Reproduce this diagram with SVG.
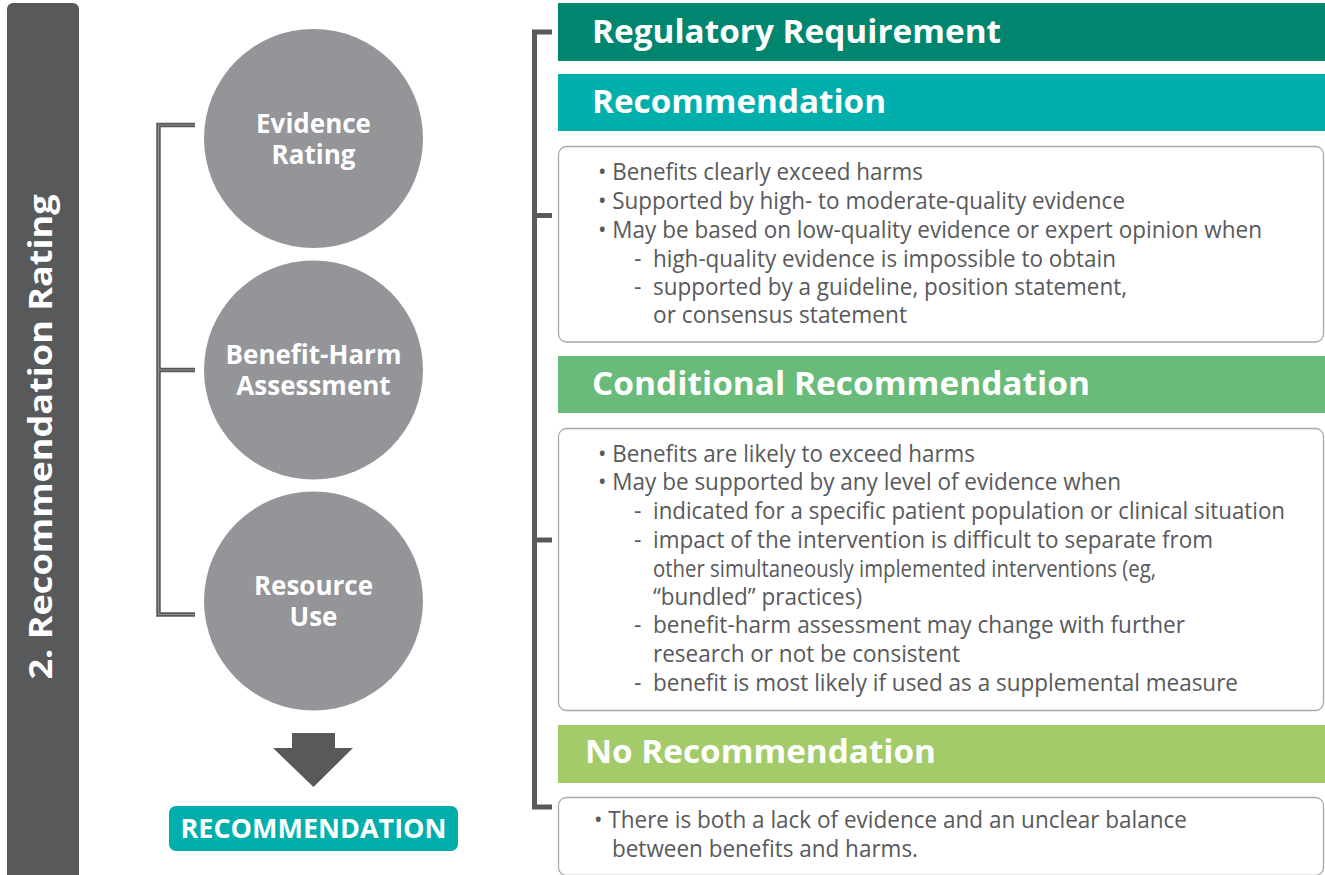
<svg xmlns="http://www.w3.org/2000/svg" width="1325" height="875" viewBox="0 0 1325 875">
<style>
.hd{font-family:"Open Sans","Liberation Sans",sans-serif;font-weight:bold;font-size:32px;fill:#ffffff}
.ct{font-family:"Open Sans","Liberation Sans",sans-serif;font-weight:bold;font-size:26px;fill:#ffffff;text-anchor:middle}
.bd{font-family:"Open Sans","Liberation Sans",sans-serif;font-size:23px;fill:#58595b}
.box{fill:#ffffff;stroke:#a7a9ac;stroke-width:1.3}
.circ{fill:#939598}
</style>
<rect width="1325" height="875" fill="#ffffff"/>

<g id="side-bar">
<rect x="7" y="3" width="72" height="880" rx="6" fill="#58595b"/>
<text class="hd" x="52" y="437" font-size="34" text-anchor="middle" transform="rotate(-90 52 437)" textLength="485" lengthAdjust="spacingAndGlyphs">2. Recommendation Rating</text>
</g>

<g id="connectors">
<g fill="none" stroke="#58595b" stroke-width="4.5">
<path d="M195 125 H158.5 V614.5 H195 M158.5 370 H195"/>
</g>
<g fill="none" stroke="#8f9194" stroke-width="1.2">
<path d="M195 125 H158.5 V614.5 H195 M158.5 370 H195"/>
</g>
<path d="M552 32 H534.5 V807 H552 M534.5 215.5 H552 M534.5 540 H552" fill="none" stroke="#58595b" stroke-width="5"/>
</g>

<g id="evidence-rating">
<circle class="circ" cx="313.5" cy="138.5" r="109.5"/>
<text class="ct" x="313.5" y="133">Evidence</text>
<text class="ct" x="313.5" y="164">Rating</text>
</g>

<g id="benefit-harm">
<circle class="circ" cx="313.5" cy="370" r="109.5"/>
<text class="ct" x="313.5" y="364">Benefit-Harm</text>
<text class="ct" x="313.5" y="395">Assessment</text>
</g>

<g id="resource-use">
<circle class="circ" cx="313.5" cy="601" r="109.5"/>
<text class="ct" x="313.5" y="595">Resource</text>
<text class="ct" x="313.5" y="626">Use</text>
</g>

<g id="down-arrow">
<path d="M292 733 H335 V748 L353 748 L313.5 787 L273 748 L292 748 Z" fill="#58595b"/>
</g>

<g id="recommendation-button">
<rect x="169" y="806" width="289" height="45" rx="7" fill="#00aeab"/>
<text class="ct" x="313.5" y="838" textLength="266" lengthAdjust="spacingAndGlyphs">RECOMMENDATION</text>
</g>

<g id="regulatory-requirement">
<rect x="558" y="3" width="767" height="58" fill="#00866f"/>
<text class="hd" x="592" y="43" textLength="409" lengthAdjust="spacingAndGlyphs">Regulatory Requirement</text>
</g>

<g id="recommendation">
<rect x="558" y="74" width="767" height="57" fill="#00aeab"/>
<text class="hd" x="592" y="113" textLength="294" lengthAdjust="spacingAndGlyphs">Recommendation</text>
<rect class="box" x="558.5" y="146.5" width="765" height="195.5" rx="8"/>
<text class="bd" x="598" y="180" textLength="325" lengthAdjust="spacingAndGlyphs">• Benefits clearly exceed harms</text>
<text class="bd" x="598" y="209" textLength="527" lengthAdjust="spacingAndGlyphs">• Supported by high- to moderate-quality evidence</text>
<text class="bd" x="598" y="238" textLength="664" lengthAdjust="spacingAndGlyphs">• May be based on low-quality evidence or expert opinion when</text>
<text class="bd" x="634" y="267">-</text>
<text class="bd" x="653" y="267" textLength="463" lengthAdjust="spacingAndGlyphs">high-quality evidence is impossible to obtain</text>
<text class="bd" x="634" y="295">-</text>
<text class="bd" x="653" y="295" textLength="474" lengthAdjust="spacingAndGlyphs">supported by a guideline, position statement,</text>
<text class="bd" x="653" y="323" textLength="254" lengthAdjust="spacingAndGlyphs">or consensus statement</text>
</g>

<g id="conditional-recommendation">
<rect x="558" y="356" width="767" height="57" fill="#68bb78"/>
<text class="hd" x="592" y="395" textLength="498" lengthAdjust="spacingAndGlyphs">Conditional Recommendation</text>
<rect class="box" x="558.5" y="428.5" width="765" height="282" rx="8"/>
<text class="bd" x="598" y="462" textLength="377" lengthAdjust="spacingAndGlyphs">• Benefits are likely to exceed harms</text>
<text class="bd" x="598" y="490" textLength="523" lengthAdjust="spacingAndGlyphs">• May be supported by any level of evidence when</text>
<text class="bd" x="634" y="519">-</text>
<text class="bd" x="653" y="519" textLength="632" lengthAdjust="spacingAndGlyphs">indicated for a specific patient population or clinical situation</text>
<text class="bd" x="634" y="548">-</text>
<text class="bd" x="653" y="548" textLength="560" lengthAdjust="spacingAndGlyphs">impact of the intervention is difficult to separate from</text>
<text class="bd" x="653" y="577" textLength="503" lengthAdjust="spacingAndGlyphs">other simultaneously implemented interventions (eg,</text>
<text class="bd" x="653" y="605" textLength="209" lengthAdjust="spacingAndGlyphs">“bundled” practices)</text>
<text class="bd" x="634" y="633">-</text>
<text class="bd" x="653" y="633" textLength="532" lengthAdjust="spacingAndGlyphs">benefit-harm assessment may change with further</text>
<text class="bd" x="653" y="662" textLength="307" lengthAdjust="spacingAndGlyphs">research or not be consistent</text>
<text class="bd" x="634" y="691">-</text>
<text class="bd" x="653" y="691" textLength="585" lengthAdjust="spacingAndGlyphs">benefit is most likely if used as a supplemental measure</text>
</g>

<g id="no-recommendation">
<rect x="558" y="725" width="767" height="58" fill="#a3cb69"/>
<text class="hd" x="585" y="763" textLength="351" lengthAdjust="spacingAndGlyphs">No Recommendation</text>
<rect class="box" x="558.5" y="797.5" width="765" height="78" rx="8"/>
<text class="bd" x="594" y="828" textLength="593" lengthAdjust="spacingAndGlyphs">• There is both a lack of evidence and an unclear balance</text>
<text class="bd" x="612" y="857" textLength="306" lengthAdjust="spacingAndGlyphs">between benefits and harms.</text>
</g>
</svg>
